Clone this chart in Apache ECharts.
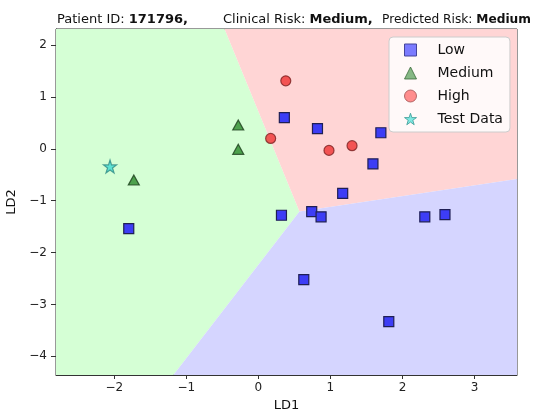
<!DOCTYPE html>
<html>
<head>
<meta charset="utf-8">
<script src="https://cdn.jsdelivr.net/npm/echarts@6/dist/echarts.min.js"></script>
<style>
html, body { margin: 0; padding: 0; background: #fff; }
#chart { width: 542px; height: 416px; }
</style>
</head>
<body>
<div id="chart"></div>
<script>
// axis extents (LD1 / LD2)
var xMin = -2.81, xMax = 3.59;
var yMin = -4.36, yMax = 2.31;
var xTicks = [-2, -1, 0, 1, 2, 3];
var yTicks = [-4, -3, -2, -1, 0, 1, 2];

// decision regions (vertices in LD space)
var mediumRegion = [[xMin, yMax], [-0.47, yMax], [0.57, -1.21], [-1.18, yMin], [xMin, yMin]];
var highRegion = [[-0.47, yMax], [xMax, yMax], [xMax, -0.58], [0.57, -1.21]];
var lowRegion = [[0.57, -1.21], [xMax, -0.58], [xMax, yMin], [-1.18, yMin]];

// training points
var lowPoints = [
    [-1.80, -1.54], [0.36, 0.60], [0.82, 0.39], [1.70, 0.31], [1.59, -0.29],
    [1.17, -0.86], [0.32, -1.28], [0.74, -1.21], [0.87, -1.31], [2.31, -1.31],
    [2.59, -1.27], [0.63, -2.52], [1.81, -3.33]
];
var mediumPoints = [[-1.73, -0.60], [-0.28, 0.46], [-0.28, -0.01]];
var highPoints = [[0.38, 1.31], [0.17, 0.20], [0.98, -0.03], [1.30, 0.06]];
var testPoints = [[-2.06, -0.34]];

var starPath = 'path://M50,2 L61,36 L97,36 L68,57 L79,92 L50,71 L21,92 L32,57 L3,36 L39,36 Z';
var fontMain = 'DejaVu Sans';

function regionSeries(name, verts, color) {
    return {
        type: 'custom',
        name: name + '-region',
        silent: true,
        z: 1,
        data: [0],
        renderItem: function (params, api) {
            var pts = verts.map(function (v) { return api.coord(v); });
            return {
                type: 'polygon',
                shape: { points: pts },
                style: { fill: color }
            };
        }
    };
}

var chart = echarts.init(document.getElementById('chart'), null, { renderer: 'canvas' });

function titleStyle(size) {
    return {
        fontFamily: fontMain, fontSize: size, color: '#111', fontWeight: 'normal',
        rich: { b: { fontFamily: fontMain, fontSize: size, fontWeight: 'bold', color: '#111' } }
    };
}

chart.setOption({
    animation: false,
    backgroundColor: '#fff',
    title: [
        { text: 'Patient ID: {b|171796,}', left: 52, top: 8, textStyle: titleStyle(13) },
        { text: 'Clinical Risk: {b|Medium,}', left: 218, top: 8, textStyle: titleStyle(13) },
        { text: 'Predicted Risk: {b|Medium}', left: 377, top: 8.5, textStyle: titleStyle(12.2) }
    ],
    grid: {
        left: 56, right: 25, top: 29, bottom: 41,
        show: true, borderColor: '#333', borderWidth: 1, backgroundColor: 'transparent',
        containLabel: false, outerBoundsMode: 'none'
    },
    legend: {
        orient: 'vertical',
        left: 389, top: 37,
        padding: [5, 7, 5, 15],
        itemWidth: 12, itemHeight: 12, itemGap: 7,
        backgroundColor: 'rgba(255,255,255,0.85)',
        borderColor: '#ccc', borderWidth: 1, borderRadius: 4,
        textStyle: { fontFamily: fontMain, fontSize: 14, color: '#111', lineHeight: 16, padding: [0, 0, 0, 16] },
        data: [
            { name: 'Low', itemStyle: { color: '#7b7bff', borderColor: '#45459a', borderWidth: 1 } },
            { name: 'Medium', itemStyle: { color: '#68a868', borderColor: '#3a6a3a', borderWidth: 1 } },
            { name: 'High', itemStyle: { color: '#ff7272', borderColor: '#a05050', borderWidth: 1 } },
            { name: 'Test Data', itemStyle: { color: '#5fe3dc', borderColor: '#3a9a95', borderWidth: 1 } }
        ]
    },
    xAxis: {
        type: 'value', min: xMin, max: xMax,
        name: 'LD1', nameLocation: 'middle', nameGap: 24,
        nameTextStyle: { fontFamily: fontMain, fontSize: 13, color: '#111' },
        axisLine: { show: true, onZero: false, lineStyle: { color: '#333' } },
        axisTick: { show: true, length: 4, customValues: xTicks, lineStyle: { color: '#333' } },
        axisLabel: { customValues: xTicks, margin: 7, fontFamily: fontMain, fontSize: 12, color: '#222',
            formatter: function (v) { return String(v).replace('-', '\u2212'); } },
        splitLine: { show: false }
    },
    yAxis: {
        type: 'value', min: yMin, max: yMax,
        name: 'LD2', nameLocation: 'middle', nameGap: 38, nameRotate: 90,
        nameTextStyle: { fontFamily: fontMain, fontSize: 13, color: '#111' },
        axisLine: { show: true, onZero: false, lineStyle: { color: '#333' } },
        axisTick: { show: true, length: 5, customValues: yTicks, lineStyle: { color: '#333' } },
        axisLabel: { customValues: yTicks, margin: 9, fontFamily: fontMain, fontSize: 12, color: '#222',
            formatter: function (v) { return String(v).replace('-', '\u2212'); } },
        splitLine: { show: false }
    },
    series: [
        regionSeries('Medium', mediumRegion, '#d5ffd5'),
        regionSeries('High', highRegion, '#ffd5d5'),
        regionSeries('Low', lowRegion, '#d5d5ff'),
        {
            type: 'scatter', name: 'Low', data: lowPoints, z: 3,
            symbol: 'rect', symbolSize: 10,
            itemStyle: { color: '#3d3df5', borderColor: '#1f1f55', borderWidth: 1.2, opacity: 1 }
        },
        {
            type: 'scatter', name: 'Medium', data: mediumPoints, z: 3,
            symbol: 'triangle', symbolSize: [11, 10],
            itemStyle: { color: '#2b8a2b', borderColor: '#1b3d1b', borderWidth: 1.2 }
        },
        {
            type: 'scatter', name: 'High', data: highPoints, z: 3,
            symbol: 'circle', symbolSize: 10,
            itemStyle: { color: '#f03232', borderColor: '#7a2020', borderWidth: 1.2 }
        },
        {
            type: 'scatter', name: 'Test Data', data: testPoints, z: 3,
            symbol: starPath, symbolSize: 13,
            itemStyle: { color: '#40dcd2', borderColor: '#2f8a85', borderWidth: 1.2 }
        }
    ]
});
</script>
</body>
</html>
